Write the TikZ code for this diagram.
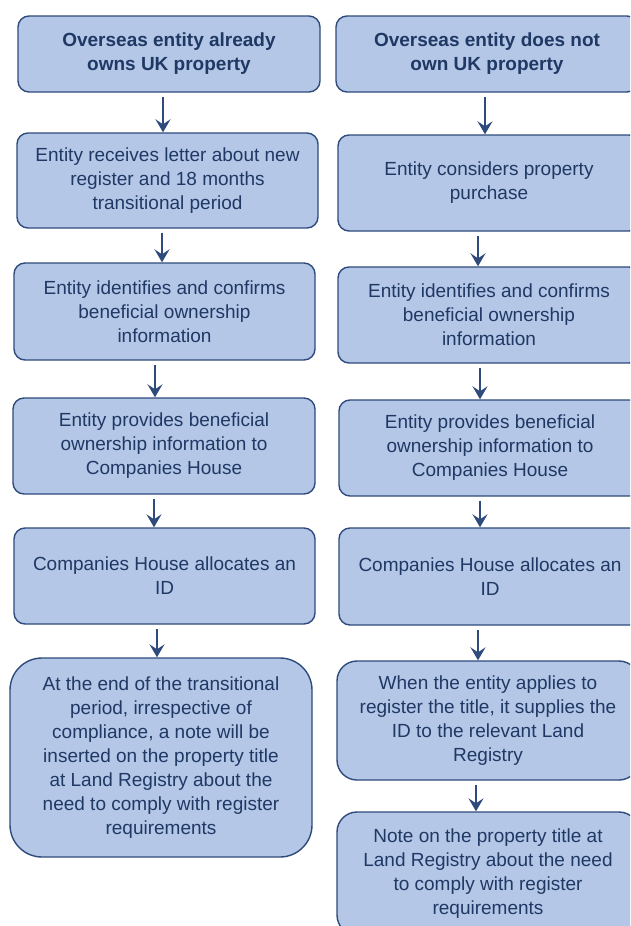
\documentclass[tikz,border=0pt]{standalone}
\usepackage{fontspec}
\setmainfont{Liberation Sans}
\usetikzlibrary{arrows.meta}
\definecolor{boxfill}{HTML}{B4C7E7}
\definecolor{boxline}{HTML}{2F4B7C}
\definecolor{boxtext}{HTML}{1F3864}
\begin{document}
\begin{tikzpicture}[x=1pt,y=-1pt,
  box/.style={draw=boxline, line width=1.4pt, fill=boxfill, rounded corners=11pt,
    rectangle, inner sep=0pt, align=center, text=boxtext,
    font=\fontsize{19}{24}\selectfont},
  bigbox/.style={box, rounded corners=32pt},
  midbox/.style={box, rounded corners=20pt},
  arr/.style={draw=boxline, line width=2.2pt, shorten <=4pt,
    -{Stealth[length=13pt,width=15pt,inset=5pt]}}]
\useasboundingbox (0,0) rectangle (630,926);
\clip (0,0) rectangle (630,926);
\fill[white] (0,0) rectangle (630,926);
% left column
\node[box, minimum width=302pt, minimum height=76pt] (L1) at (169,54)
  {\textbf{Overseas entity already}\\\textbf{owns UK property}};
\node[box, minimum width=301pt, minimum height=95pt] (L2) at (167.5,180.5)
  {Entity receives letter about new\\register and 18 months\\transitional period};
\node[box, minimum width=301pt, minimum height=97pt] (L3) at (164.5,311.5)
  {Entity identifies and confirms\\beneficial ownership\\information};
\node[box, minimum width=302pt, minimum height=96pt] (L4) at (164,446)
  {Entity provides beneficial\\ownership information to\\Companies House};
\node[box, minimum width=301pt, minimum height=96pt] (L5) at (164.5,576)
  {Companies House allocates an\\ID};
\node[bigbox, minimum width=302pt, minimum height=199pt] (L6) at (161,757.5)
  {At the end of the transitional\\period, irrespective of\\compliance, a note will be\\inserted on the property title\\at Land Registry about the\\need to comply with register\\requirements};
% right column
\node[box, minimum width=302pt, minimum height=76pt] (R1) at (487,54)
  {\textbf{Overseas entity does not}\\\textbf{own UK property}};
\node[box, minimum width=302pt, minimum height=96pt] (R2) at (489,183)
  {Entity considers property\\purchase};
\node[box, minimum width=302pt, minimum height=96pt] (R3) at (489,315)
  {Entity identifies and confirms\\beneficial ownership\\information};
\node[box, minimum width=302pt, minimum height=96pt] (R4) at (490,448)
  {Entity provides beneficial\\ownership information to\\Companies House};
\node[box, minimum width=302pt, minimum height=97pt] (R5) at (490,576.5)
  {Companies House allocates an\\ID};
\node[midbox, minimum width=302pt, minimum height=119pt] (R6) at (488,720.5)
  {When the entity applies to\\register the title, it supplies the\\ID to the relevant Land\\Registry};
\node[midbox, minimum width=302pt, minimum height=123pt] (R7) at (488,873.5)
  {Note on the property title at\\Land Registry about the need\\to comply with register\\requirements};
% arrows
\draw[arr] (L1.south -| 163,0) -- (L2.north -| 163,0);
\draw[arr] (L2.south -| 162,0) -- (L3.north -| 162,0);
\draw[arr] (L3.south -| 155,0) -- (L4.north -| 155,0);
\draw[arr] (L4.south -| 154,0) -- (L5.north -| 154,0);
\draw[arr] (L5.south -| 157,0) -- (L6.north -| 157,0);
\draw[arr] (R1.south -| 485,0) -- (R2.north -| 485,0);
\draw[arr] (R2.south -| 478,0) -- (R3.north -| 478,0);
\draw[arr] (R3.south -| 480,0) -- (R4.north -| 480,0);
\draw[arr] (R4.south -| 480,0) -- (R5.north -| 480,0);
\draw[arr] (R5.south -| 478,0) -- (R6.north -| 478,0);
\draw[arr] (R6.south -| 476,0) -- (R7.north -| 476,0);
\end{tikzpicture}
\end{document}
